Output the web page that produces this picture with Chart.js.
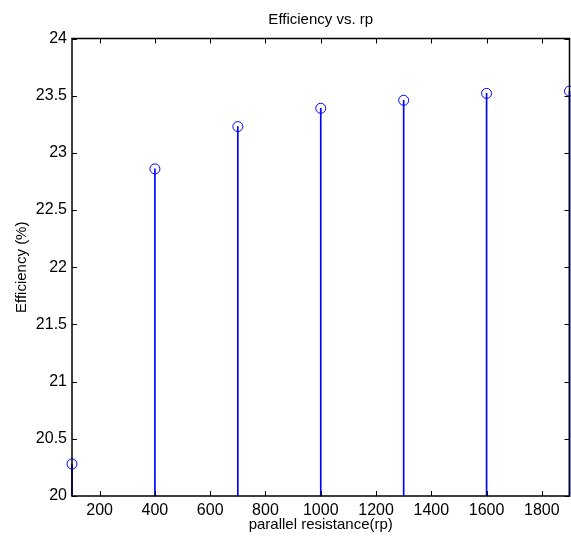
<!DOCTYPE html>
<html>
<head>
<meta charset="utf-8">
<script src="https://cdn.jsdelivr.net/npm/chart.js@4/dist/chart.umd.min.js"></script>
<style>
  html, body { margin: 0; padding: 0; background: #fff; }
  #wrap { width: 571px; height: 544px; }
</style>
</head>
<body>
<div id="wrap"><canvas id="myChart" width="571" height="544"></canvas></div>
<script>
// data
let rpValues = [100, 400, 700, 1000, 1300, 1600, 1900];
let efficiency = [20.28, 22.86, 23.23, 23.39, 23.46, 23.52, 23.54];
let xTicks = [200, 400, 600, 800, 1000, 1200, 1400, 1600, 1800];
let yTicks = [20, 20.5, 21, 21.5, 22, 22.5, 23, 23.5, 24];
let stemBase = 20;

let fontName = "'Liberation Sans', Arial, sans-serif";
let blue = '#0000ff';

// matlab style box with ticks pointing inwards
let boxTicks = {
    id: 'boxTicks',
    afterDatasetsDraw(chart) {
        let ctx = chart.ctx;
        let a = chart.chartArea;
        let x = chart.scales.x, y = chart.scales.y;
        let len = 5;
        ctx.save();
        ctx.strokeStyle = '#000';
        ctx.lineWidth = 1;
        ctx.beginPath();
        x.ticks.forEach(t => {
            let px = Math.round(x.getPixelForValue(t.value)) + 0.5;
            ctx.moveTo(px, a.bottom); ctx.lineTo(px, a.bottom - len);
            ctx.moveTo(px, a.top); ctx.lineTo(px, a.top + len);
        });
        y.ticks.forEach(t => {
            let py = Math.round(y.getPixelForValue(t.value)) + 0.5;
            ctx.moveTo(a.left, py); ctx.lineTo(a.left + len, py);
            ctx.moveTo(a.right, py); ctx.lineTo(a.right - len, py);
        });
        ctx.stroke();
        ctx.lineWidth = 1.5;
        ctx.strokeRect(a.left, a.top, a.right - a.left, a.bottom - a.top);
        ctx.restore();
    }
};

let ctx = document.getElementById('myChart').getContext('2d');
let myChart = new Chart(ctx, {
    type: 'bar',
    data: {
        datasets: [
            {
                // stems, floating bars from the bottom of the axis
                type: 'bar',
                data: rpValues.map((v, i) => ({ x: v, y: [stemBase, efficiency[i]] })),
                backgroundColor: blue,
                borderWidth: 0,
                barThickness: 1,
                clip: false,
                order: 2
            },
            {
                // circle heads
                type: 'line',
                data: rpValues.map((v, i) => ({ x: v, y: efficiency[i] })),
                showLine: false,
                pointStyle: 'circle',
                pointRadius: 5,
                pointBorderWidth: 1,
                pointBorderColor: blue,
                pointBackgroundColor: 'rgba(0,0,0,0)',
                clip: false,
                order: 1
            }
        ]
    },
    options: {
        responsive: false,
        animation: false,
        events: [],
        layout: { autoPadding: false, padding: { left: 0, right: 1.5, top: 0, bottom: 0 } },
        plugins: {
            legend: { display: false },
            tooltip: { enabled: false },
            title: {
                display: true,
                fullSize: false,
                text: 'Efficiency vs. rp',
                color: '#000',
                font: { family: fontName, size: 15, weight: 'normal' },
                padding: { top: 11, bottom: 9.5 }
            }
        },
        scales: {
            x: {
                type: 'linear',
                min: 100,
                max: 1900,
                offset: false,
                grid: { display: false, drawTicks: false },
                border: { display: false },
                afterBuildTicks: s => { s.ticks = xTicks.map(v => ({ value: v })); },
                afterFit: s => { s.height = 48; s.paddingLeft = 0; s.paddingRight = 0; },
                ticks: {
                    color: '#000',
                    padding: 5,
                    maxRotation: 0,
                    font: { family: fontName, size: 16 },
                    callback: v => String(v)
                },
                title: {
                    display: true,
                    text: 'parallel resistance(rp)',
                    color: '#000',
                    font: { family: fontName, size: 15 },
                    padding: { top: 0, bottom: 10 }
                }
            },
            y: {
                type: 'linear',
                min: 20,
                max: 24,
                grid: { display: false, drawTicks: false },
                border: { display: false },
                afterBuildTicks: s => { s.ticks = yTicks.map(v => ({ value: v })); },
                afterFit: s => { s.width = 72; },
                ticks: {
                    color: '#000',
                    padding: 5,
                    font: { family: fontName, size: 16 },
                    callback: v => String(v)
                },
                title: {
                    display: true,
                    text: 'Efficiency (%)',
                    color: '#000',
                    font: { family: fontName, size: 15 },
                    padding: { top: 13, bottom: 0 }
                }
            }
        }
    },
    plugins: [boxTicks]
});
</script>
</body>
</html>
